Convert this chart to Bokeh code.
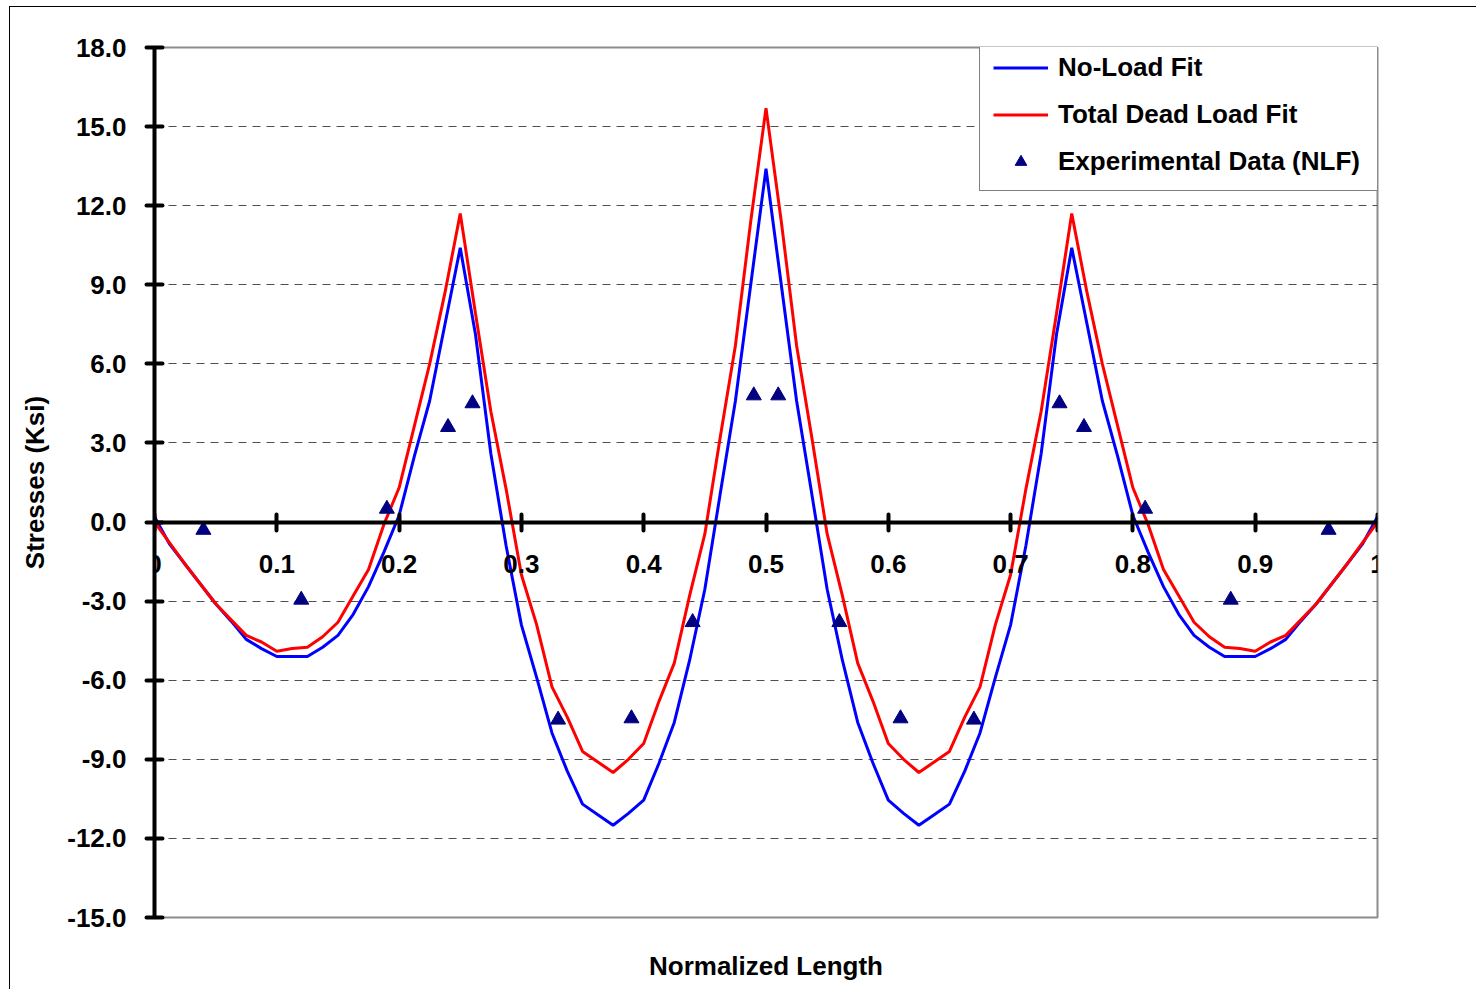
from bokeh.plotting import figure
from bokeh.models import (Range1d, FixedTicker, PrintfTickFormatter, CustomJSTickFormatter,
                          Legend, LegendItem, LinearAxis)
from bokeh.embed import file_html
from bokeh.resources import INLINE

# ---------------- data ----------------
norm_length = [0, 0.0125, 0.025, 0.0375, 0.05, 0.0625, 0.075, 0.0875, 0.1, 0.1125,
               0.125, 0.1375, 0.15, 0.1625, 0.175, 0.1875, 0.2, 0.2125, 0.225, 0.2375,
               0.25, 0.2625, 0.275, 0.2875, 0.3, 0.3125, 0.325, 0.3375, 0.35, 0.3625,
               0.375, 0.3875, 0.4, 0.4125, 0.425, 0.4375, 0.45, 0.4625, 0.475, 0.4875,
               0.5, 0.5125, 0.525, 0.5375, 0.55, 0.5625, 0.575, 0.5875, 0.6, 0.6125,
               0.625, 0.6375, 0.65, 0.6625, 0.675, 0.6875, 0.7, 0.7125, 0.725, 0.7375,
               0.75, 0.7625, 0.775, 0.7875, 0.8, 0.8125, 0.825, 0.8375, 0.85, 0.8625,
               0.875, 0.8875, 0.9, 0.9125, 0.925, 0.9375, 0.95, 0.9625, 0.975, 0.9875, 1]

no_load_fit = [0.2, -0.85, -1.6, -2.35, -3.1, -3.75, -4.45, -4.8, -5.1, -5.1,
               -5.1, -4.75, -4.3, -3.5, -2.45, -1.15, 0.25, 2.5, 4.6, 7.5,
               10.4, 7.1, 2.6, -0.9, -3.9, -5.9, -8.0, -9.45, -10.7, -11.1,
               -11.5, -11.05, -10.55, -9.15, -7.6, -5.25, -2.55, 1.05, 4.6, 9.0,
               13.4, 9.0, 4.6, 1.05, -2.55, -5.25, -7.6, -9.15, -10.55, -11.05,
               -11.5, -11.1, -10.7, -9.45, -8.0, -5.9, -3.9, -0.9, 2.6, 7.1,
               10.4, 7.5, 4.6, 2.5, 0.25, -1.15, -2.45, -3.5, -4.3, -4.75,
               -5.1, -5.1, -5.1, -4.8, -4.45, -3.75, -3.1, -2.35, -1.6, -0.85, 0.2]

dead_load_fit = [0.0, -0.8, -1.6, -2.35, -3.1, -3.7, -4.3, -4.55, -4.9, -4.8,
                 -4.75, -4.35, -3.8, -2.8, -1.8, -0.1, 1.3, 3.65, 6.0, 8.7,
                 11.7, 7.9, 4.2, 1.25, -2.0, -3.9, -6.25, -7.4, -8.7, -9.1,
                 -9.5, -9.0, -8.4, -6.8, -5.35, -2.8, -0.45, 3.2, 6.7, 11.4,
                 15.7, 11.4, 6.7, 3.2, -0.45, -2.8, -5.35, -6.8, -8.4, -9.0,
                 -9.5, -9.1, -8.7, -7.4, -6.25, -3.9, -2.0, 1.25, 4.2, 7.9,
                 11.7, 8.7, 6.0, 3.65, 1.3, -0.1, -1.8, -2.8, -3.8, -4.35,
                 -4.75, -4.8, -4.9, -4.55, -4.3, -3.7, -3.1, -2.35, -1.6, -0.8, 0.0]

exp_x = [0.04, 0.12, 0.19, 0.24, 0.26, 0.33, 0.39, 0.44, 0.49,
         0.51, 0.56, 0.61, 0.67, 0.74, 0.76, 0.81, 0.88, 0.96]
exp_y = [-0.3, -2.95, 0.5, 3.6, 4.5, -7.5, -7.45, -3.8, 4.8,
         4.8, -3.8, -7.45, -7.5, 4.5, 3.6, 0.5, -2.95, -0.3]

x_ticks = [0, 0.1, 0.2, 0.3, 0.4, 0.5, 0.6, 0.7, 0.8, 0.9, 1]
y_ticks = [-15, -12, -9, -6, -3, 0, 3, 6, 9, 12, 15, 18]

series_labels = ["No-Load Fit", "Total Dead Load Fit", "Experimental Data (NLF)"]

FONT = "Liberation Sans"
FSIZE = "26px"

# ---------------- figure ----------------
p = figure(width=1466, height=982, x_range=Range1d(0, 1), y_range=Range1d(-15, 18),
           output_backend="svg", toolbar_location=None,
           min_border_left=144, min_border_right=99, min_border_top=40, min_border_bottom=72)
p.margin = (7, 0, 0, 10)
p.styles = {"outline": "1px solid black"}
p.background_fill_color = "white"
p.border_fill_color = "white"
p.outline_line_color = "#8c8c8c"
p.outline_line_width = 2

# x axis pinned at y = 0
xa = p.xaxis[0]
xa.fixed_location = 0
xa.ticker = FixedTicker(ticks=x_ticks)
xa.formatter = CustomJSTickFormatter(code="return (Math.abs(tick) < 1e-9 || Math.abs(tick-1) < 1e-9) ? tick.toFixed(0) : tick.toFixed(1);")
xa.axis_line_width = 4
xa.axis_line_color = "black"
xa.major_tick_in = 8
xa.major_tick_out = 8
xa.major_tick_line_width = 4
xa.major_tick_line_cap = "round"
xa.minor_tick_line_color = None
xa.major_label_text_font = FONT
xa.major_label_text_font_style = "bold"
xa.major_label_text_font_size = FSIZE
xa.major_label_text_color = "black"
xa.major_label_standoff = 25

# x-axis title carried by a bare axis below the frame
xlab = LinearAxis(ticker=FixedTicker(ticks=[]), axis_label="Normalized Length",
                  axis_line_color=None, major_tick_line_color=None,
                  minor_tick_line_color=None, major_tick_in=0, major_tick_out=0,
                  major_label_text_font_size="1px", major_label_standoff=0,
                  axis_label_standoff=33, axis_label_text_font=FONT,
                  axis_label_text_font_style="bold", axis_label_text_font_size=FSIZE,
                  axis_label_text_color="black")
p.add_layout(xlab, "below")

ya = p.yaxis[0]
ya.ticker = FixedTicker(ticks=y_ticks)
ya.formatter = PrintfTickFormatter(format="%.1f")
ya.axis_line_width = 4
ya.axis_line_color = "black"
ya.major_tick_in = 8
ya.major_tick_out = 8
ya.major_tick_line_width = 4
ya.major_tick_line_cap = "round"
ya.minor_tick_line_color = None
ya.major_label_text_font = FONT
ya.major_label_text_font_style = "bold"
ya.major_label_text_font_size = FSIZE
ya.major_label_text_color = "black"
ya.major_label_standoff = 20
ya.axis_label = "Stresses (Ksi)"
ya.axis_label_text_font = FONT
ya.axis_label_text_font_style = "bold"
ya.axis_label_text_font_size = FSIZE
ya.axis_label_text_color = "black"
ya.axis_label_standoff = 14

p.xgrid.visible = False
p.ygrid.ticker = FixedTicker(ticks=y_ticks)
p.ygrid.grid_line_color = "#505050"
p.ygrid.grid_line_dash = "8 6"
p.ygrid.grid_line_width = 1

# ---------------- series ----------------
r1 = p.line(norm_length, no_load_fit, line_color="#0000ff", line_width=3)
r2 = p.line(norm_length, dead_load_fit, line_color="#ff0000", line_width=3)
r3 = p.scatter(exp_x, exp_y, marker="triangle", size=15,
               fill_color="#000080", line_color="#000080")

legend = Legend(items=[LegendItem(label=series_labels[0], renderers=[r1]),
                       LegendItem(label=series_labels[1], renderers=[r2]),
                       LegendItem(label=series_labels[2], renderers=[r3])],
                location=(825, 726), margin=0, padding=13, spacing=16,
                glyph_width=55, glyph_height=29, label_height=29, label_width=307,
                label_standoff=10,
                label_text_font=FONT, label_text_font_style="bold",
                label_text_font_size=FSIZE, label_text_color="black",
                border_line_color="black", border_line_width=1,
                background_fill_color="white", background_fill_alpha=1.0)
p.add_layout(legend)

open("out.html", "w").write(file_html(p, INLINE, "Stresses"))
